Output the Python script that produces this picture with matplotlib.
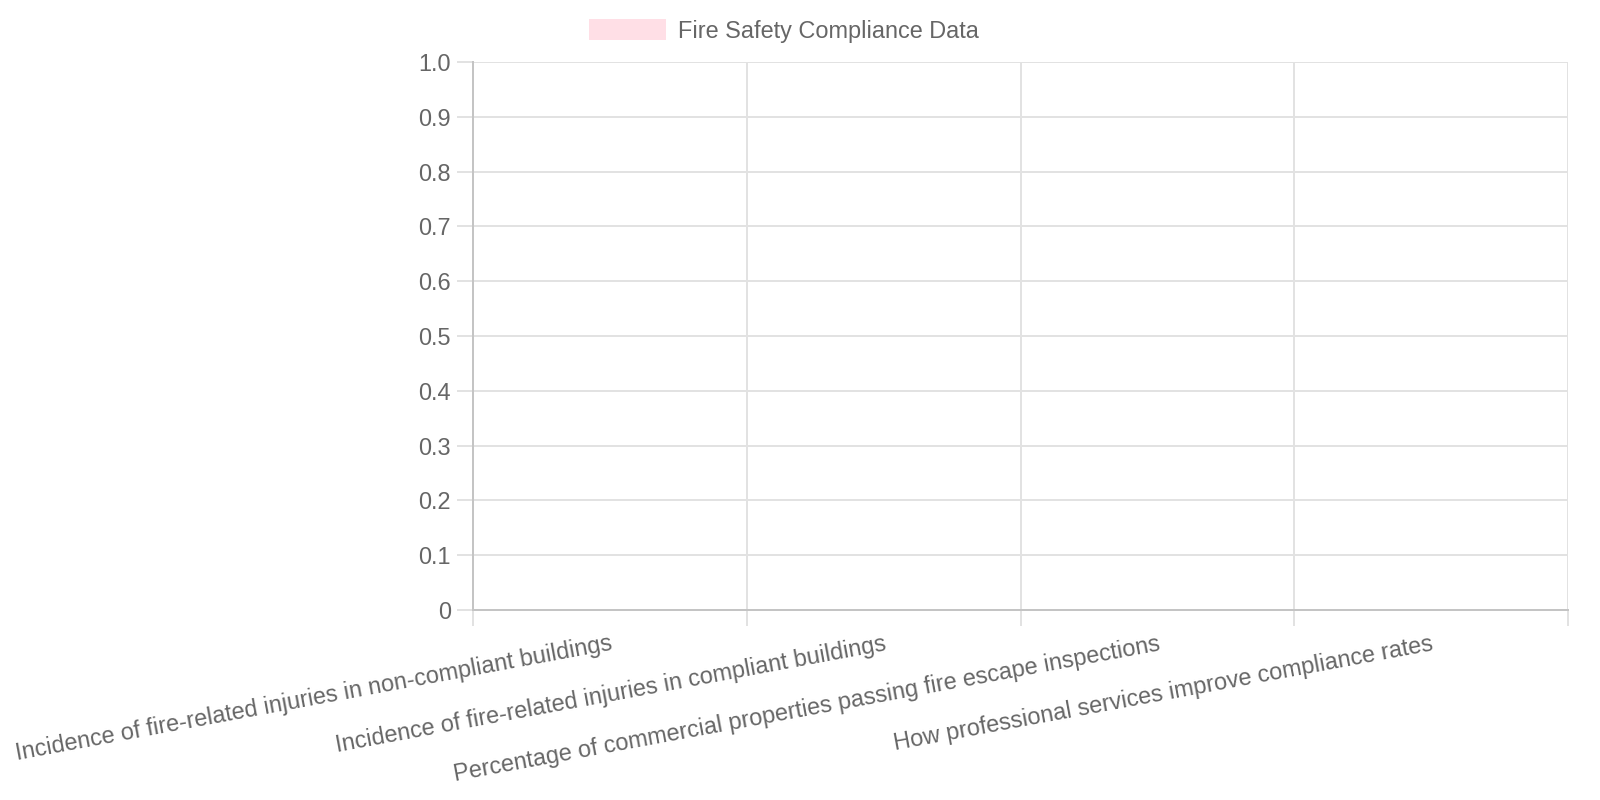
import matplotlib
matplotlib.use('Agg')
import matplotlib.pyplot as plt
import numpy as np

# data
categories = [
    'Incidence of fire-related injuries in non-compliant buildings',
    'Incidence of fire-related injuries in compliant buildings',
    'Percentage of commercial properties passing fire escape inspections',
    'How professional services improve compliance rates',
]
values = [0, 0, 0, 0]
series_label = 'Fire Safety Compliance Data'
y_ticks = [0, 0.1, 0.2, 0.3, 0.4, 0.5, 0.6, 0.7, 0.8, 0.9, 1.0]
y_tick_labels = ['0', '0.1', '0.2', '0.3', '0.4', '0.5', '0.6', '0.7', '0.8', '0.9', '1.0']

plt.rcParams['font.family'] = ['Liberation Sans', 'DejaVu Sans']
text_color = '#666666'
grid_color = '#e2e2e2'
axis_color = '#c4c4c4'
fs = 16.9  # ~23.5px

fig = plt.figure(figsize=(16, 8), dpi=100)
ax = fig.add_axes([473 / 1600, 1 - 610 / 800, (1568 - 473) / 1600, (610 - 62) / 800])

x = np.arange(len(categories))
ax.bar(x, values, width=0.8, color=(1, 99 / 255, 132 / 255, 0.2), linewidth=0, label=series_label)

ax.set_xlim(-0.5, len(categories) - 0.5)
ax.set_ylim(0, 1.0)

# y axis
ax.set_yticks(y_ticks)
ax.set_yticklabels(y_tick_labels)
ax.tick_params(axis='y', length=11.5, width=1.44, color=grid_color, pad=4.3,
               labelsize=fs, labelcolor=text_color)
ax.yaxis.grid(True, color=grid_color, linewidth=1.44)

# x axis: labels at centres, grid at category edges
ax.set_xticks(x)
ax.set_xticklabels(categories, rotation=10.5, ha='right', va='top', rotation_mode='anchor')
ax.tick_params(axis='x', which='major', length=0, pad=16, labelsize=fs, labelcolor=text_color)
ax.set_xticks(np.arange(len(categories) + 1) - 0.5, minor=True)
ax.tick_params(axis='x', which='minor', length=11.5, width=1.44, color=grid_color)
ax.xaxis.grid(True, which='minor', color=grid_color, linewidth=1.44)
ax.set_axisbelow(True)

for side in ['top', 'right']:
    ax.spines[side].set_visible(False)
for side in ['left', 'bottom']:
    ax.spines[side].set_color(axis_color)
    ax.spines[side].set_linewidth(1.44)

fig.legend(loc='center', bbox_to_anchor=(784 / 1600, 1 - 31 / 800), frameon=False,
           fontsize=fs, labelcolor=text_color, handlelength=3.3, handleheight=0.98,
           handletextpad=0.5)

fig.savefig('out.png', dpi=100, facecolor='white')
